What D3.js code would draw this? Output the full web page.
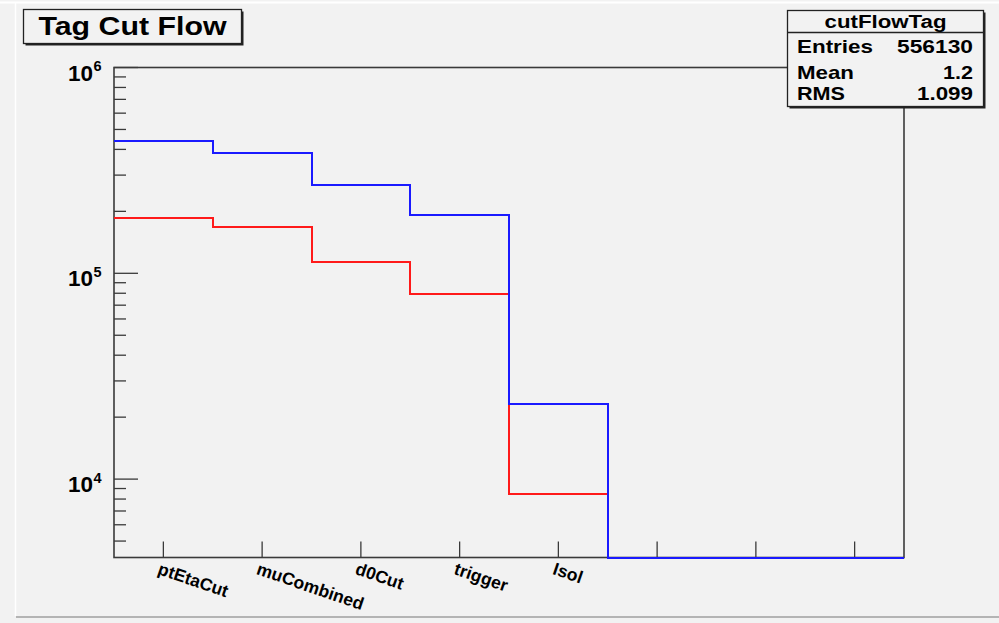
<!DOCTYPE html>
<html>
<head>
<meta charset="utf-8">
<script src="https://cdn.jsdelivr.net/npm/d3@7"></script>
<style>
  html, body { margin: 0; padding: 0; background: #f2f2f2; }
  svg { display: block; }
  text { font-family: "Liberation Sans", Arial, Helvetica, sans-serif; font-weight: bold; fill: #000; }
</style>
</head>
<body>
<svg id="c" width="999" height="623"></svg>
<script>
// Cut-flow bins (8 bins, only the first five are labelled)
const categories = ["ptEtaCut", "muCombined", "d0Cut", "trigger", "Isol", "", "", ""];
// Blue histogram counts per bin
const blueCounts = [441000, 384000, 268600, 192000, 23170, 0, 0, 0];
// Red histogram counts per bin (cutFlowTag)
const redCounts = [186500, 168600, 113300, 79300, 8430, 0, 0, 0];
// Y axis decade labels (exponents of 10)
const yDecades = [4, 5, 6];
// Statistics box rows
const statsTitle = "cutFlowTag";
const statsLabels = ["Entries", "Mean", "RMS"];
const statsValues = ["556130", "1.2", "1.099"];
const titleText = "Tag Cut Flow";

const svg = d3.select("#c");
const W = 999, H = 623;
const frame = { left: 114, right: 904, top: 67.5, bottom: 557.5 };
const yMin = 4160, yMax = 1e6;

// Canvas bevel
svg.append("rect").attr("x", 0).attr("y", 0).attr("width", W).attr("height", H).attr("fill", "#f2f2f2");
svg.append("line").attr("x1", 0).attr("x2", W).attr("y1", 2.5).attr("y2", 2.5).attr("stroke", "#ffffff").attr("stroke-width", 2);
svg.append("line").attr("x1", 15.5).attr("x2", 15.5).attr("y1", 3).attr("y2", 616).attr("stroke", "#ffffff").attr("stroke-width", 1.5);
svg.append("line").attr("x1", 16).attr("x2", W).attr("y1", 617).attr("y2", 617).attr("stroke", "#b4b4b4").attr("stroke-width", 2);

// Scales
const x = d3.scaleBand().domain(d3.range(categories.length)).range([frame.left, frame.right]).paddingInner(0).paddingOuter(0);
const y = d3.scaleLog().domain([yMin, yMax]).range([frame.bottom, frame.top]).clamp(true);
const yv = v => (v > 0 ? y(v) : frame.bottom);

// Frame
const frameColor = "#3a3a3a";
svg.append("rect")
  .attr("x", frame.left).attr("y", frame.top)
  .attr("width", frame.right - frame.left).attr("height", frame.bottom - frame.top)
  .attr("fill", "none").attr("stroke", frameColor).attr("stroke-width", 1.6);

// Y ticks: major at decades, minor at 2..9 within each decade
const yAxisG = svg.append("g");
const minorVals = [];
for (let e = 3; e <= 6; e++) {
  for (let m = 2; m <= 9; m++) {
    const v = m * Math.pow(10, e);
    if (v > yMin && v < yMax) minorVals.push(v);
  }
}
yAxisG.selectAll("line.minor").data(minorVals).join("line")
  .attr("x1", frame.left).attr("x2", frame.left + 12)
  .attr("y1", d => y(d)).attr("y2", d => y(d))
  .attr("stroke", frameColor).attr("stroke-width", 1.3);
yAxisG.selectAll("line.major").data(yDecades.map(e => Math.pow(10, e))).join("line")
  .attr("x1", frame.left).attr("x2", frame.left + 24)
  .attr("y1", d => y(d)).attr("y2", d => y(d))
  .attr("stroke", frameColor).attr("stroke-width", 1.3);

// Y decade labels 10^n
yDecades.forEach(e => {
  const ty = y(Math.pow(10, e));
  svg.append("text").attr("x", 93).attr("y", ty + 13)
    .attr("text-anchor", "end").attr("font-size", 22.5).text("10");
  svg.append("text").attr("x", 93.5).attr("y", ty + 3.5)
    .attr("text-anchor", "start").attr("font-size", 14.5).text(String(e));
});

// X ticks at bin centres
const centers = categories.map((c, i) => x(i) + x.bandwidth() / 2);
svg.selectAll("line.xt").data(centers).join("line")
  .attr("x1", d => d).attr("x2", d => d)
  .attr("y1", frame.bottom).attr("y2", frame.bottom - 16)
  .attr("stroke", frameColor).attr("stroke-width", 1.3);

// X bin labels, rotated
svg.selectAll("text.xl").data(categories.map((c, i) => ({ c, i })).filter(d => d.c !== "")).join("text")
  .attr("transform", d => `translate(${centers[d.i] - 2},${frame.bottom + 3}) rotate(19)`)
  .attr("dy", "0.8em")
  .attr("font-size", 17.5)
  .text(d => d.c);

// Step outline of a histogram
function stepPath(vals) {
  const p = d3.path();
  vals.forEach((v, i) => {
    const x0 = x(i), x1 = x(i) + x.bandwidth();
    if (i === 0) p.moveTo(x0, yv(v)); else p.lineTo(x0, yv(v));
    p.lineTo(x1, yv(v));
  });
  return p.toString();
}
svg.append("path").attr("d", stepPath(redCounts))
  .attr("fill", "none").attr("stroke", "#ff1a1a").attr("stroke-width", 2)
  .attr("shape-rendering", "crispEdges");
svg.append("path").attr("d", stepPath(blueCounts))
  .attr("fill", "none").attr("stroke", "#1a1aff").attr("stroke-width", 2)
  .attr("shape-rendering", "crispEdges");

// Title box
const tb = { x: 23.5, y: 9.5, w: 218, h: 34 };
svg.append("rect").attr("x", tb.x + 2).attr("y", tb.y + 2).attr("width", tb.w).attr("height", tb.h).attr("fill", "#222");
svg.append("rect").attr("x", tb.x).attr("y", tb.y).attr("width", tb.w).attr("height", tb.h)
  .attr("fill", "#f2f2f2").attr("stroke", "#222").attr("stroke-width", 1.3);
svg.append("text").attr("x", tb.x + tb.w / 2).attr("y", 35)
  .attr("text-anchor", "middle").attr("font-size", 26.5)
  .attr("textLength", 188).attr("lengthAdjust", "spacingAndGlyphs")
  .text(titleText);

// Statistics box
const sb = { x: 787.5, y: 10.5, w: 196, h: 96 };
svg.append("rect").attr("x", sb.x + 2).attr("y", sb.y + 2).attr("width", sb.w).attr("height", sb.h).attr("fill", "#222");
svg.append("rect").attr("x", sb.x).attr("y", sb.y).attr("width", sb.w).attr("height", sb.h)
  .attr("fill", "#f2f2f2").attr("stroke", "#222").attr("stroke-width", 1.3);
svg.append("line").attr("x1", sb.x).attr("x2", sb.x + sb.w).attr("y1", 32.5).attr("y2", 32.5)
  .attr("stroke", "#222").attr("stroke-width", 1.3);
svg.append("text").attr("x", sb.x + sb.w / 2).attr("y", 27.5)
  .attr("text-anchor", "middle").attr("font-size", 18)
  .attr("textLength", 122).attr("lengthAdjust", "spacingAndGlyphs")
  .text(statsTitle);
const rowBase = [53, 79, 100];
const labelLen = [76, 57, 48];
const valueLen = [76, 30, 56];
statsLabels.forEach((lab, i) => {
  svg.append("text").attr("x", 797).attr("y", rowBase[i])
    .attr("font-size", 19)
    .attr("textLength", labelLen[i]).attr("lengthAdjust", "spacingAndGlyphs")
    .text(lab);
  svg.append("text").attr("x", 973).attr("y", rowBase[i])
    .attr("text-anchor", "end").attr("font-size", 19)
    .attr("textLength", valueLen[i]).attr("lengthAdjust", "spacingAndGlyphs")
    .text(statsValues[i]);
});
</script>
</body>
</html>
